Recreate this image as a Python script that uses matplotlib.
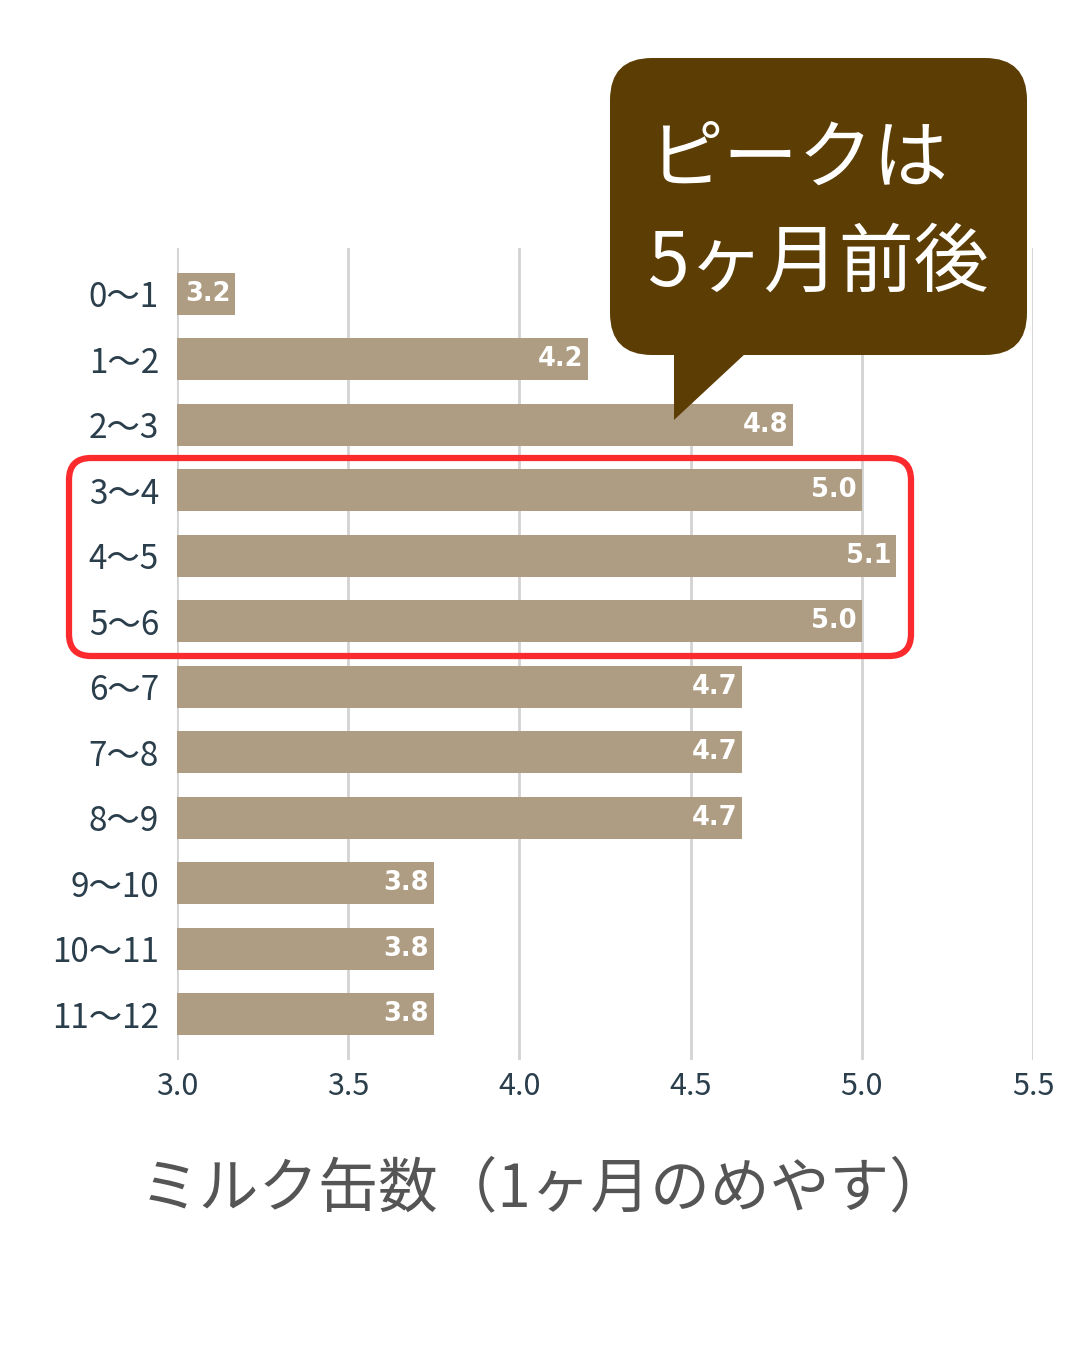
import matplotlib.pyplot as plt
from matplotlib.patches import FancyBboxPatch, Polygon

plt.rcParams['font.family'] = ['Noto Sans CJK JP', 'DejaVu Sans']

ages = ['0〜1', '1〜2', '2〜3', '3〜4', '4〜5', '5〜6',
        '6〜7', '7〜8', '8〜9', '9〜10', '10〜11', '11〜12']
cans = [3.17, 4.2, 4.8, 5.0, 5.1, 5.0, 4.65, 4.65, 4.65, 3.75, 3.75, 3.75]
can_labels = ['3.2', '4.2', '4.8', '5.0', '5.1', '5.0',
              '4.7', '4.7', '4.7', '3.8', '3.8', '3.8']
xticks = [3.0, 3.5, 4.0, 4.5, 5.0, 5.5]

bar_color = '#ae9d82'
text_color = '#2b3e4c'

fig = plt.figure(figsize=(10.8, 13.5), dpi=100)
ax = fig.add_axes([177 / 1080, 1 - 1060 / 1350, 856 / 1080, 812 / 1350])

y = list(range(len(ages)))
ax.barh(y, [c - 3.0 for c in cans], left=3.0, height=0.64, color=bar_color, zorder=2)
for yi, c, lab in zip(y, cans, can_labels):
    ax.annotate(lab, (c, yi), xytext=(-3.5, 0), textcoords='offset points',
                ha='right', va='center', color='white', fontsize=18.5,
                fontweight='bold', family='DejaVu Sans', zorder=3)

ax.set_xlim(3.0, 5.5)
ax.set_ylim(len(ages) - 0.3, -0.7)
ax.set_xticks(xticks)
ax.set_xticklabels([f'{t:.1f}' for t in xticks], fontsize=22, color=text_color)
ax.set_yticks(y)
ax.set_yticklabels(ages, fontsize=24, color=text_color)
ax.tick_params(axis='both', length=0)
ax.tick_params(axis='y', pad=13)
ax.tick_params(axis='x', pad=8)
ax.grid(axis='x', color='#d3d3d3', linewidth=2, zorder=0)
for s in ax.spines.values():
    s.set_visible(False)

fig.text(545 / 1080, 1 - 1190 / 1350, 'ミルク缶数（1ヶ月のめやす）',
         ha='center', va='center', fontsize=43, color='#555555')

# overlay in pixel coordinates for the callout and the highlight box
ov = fig.add_axes([0, 0, 1, 1], zorder=5)
ov.set_xlim(0, 1080)
ov.set_ylim(1350, 0)
ov.axis('off')
ov.patch.set_alpha(0)

ov.add_patch(FancyBboxPatch((69, 458), 842, 198,
                            boxstyle='round,pad=0,rounding_size=22',
                            fill=False, edgecolor='#fa2a2d', linewidth=4.5))

callout = '#5c3d03'
ov.add_patch(FancyBboxPatch((610, 58), 417, 297,
                            boxstyle='round,pad=0,rounding_size=42',
                            facecolor=callout, edgecolor='none'))
ov.add_patch(Polygon([(674, 345), (674, 420), (746, 353), (746, 345)],
                     closed=True, facecolor=callout, edgecolor='none'))
ov.text(648, 160, 'ピークは', ha='left', va='center', color='white', fontsize=54)
ov.text(648, 264, '5ヶ月前後', ha='left', va='center', color='white', fontsize=54)

fig.savefig('out.png', dpi=100, facecolor='white')
